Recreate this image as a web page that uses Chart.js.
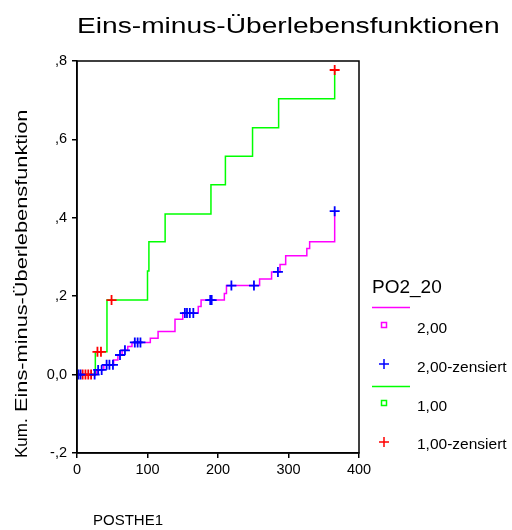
<!DOCTYPE html>
<html>
<head>
<meta charset="utf-8">
<script src="https://cdn.jsdelivr.net/npm/chart.js@4/dist/chart.umd.min.js"></script>
<style>
  html, body { margin: 0; padding: 0; background: #fff; }
</style>
</head>
<body>
<canvas id="km" width="512" height="530"></canvas>
<script>
// Texts
const titleText = "Eins-minus-Überlebensfunktionen";
const yTitleKum = "Kum.";
const yTitleMain = "Eins-minus-Überlebensfunktion";
const xTitleText = "POSTHE1";
const legendTitle = "PO2_20";
const legendLabels = ["2,00", "2,00-zensiert", "1,00", "1,00-zensiert"];

// Axes
const xTicks = [0, 100, 200, 300, 400];
const yTicks = [-0.2, 0, 0.2, 0.4, 0.6, 0.8];
const yTickLabels = ["-,2", "0,0", ",2", ",4", ",6", ",8"];

// Group 2,00: step times and cumulative value after each step
const times2 = [0, 28, 38, 52, 58, 64, 72, 78, 104, 115, 139, 150, 172, 176, 209, 212, 259, 276, 288, 296, 326, 330, 365.5];
const cum2 = [0, 0.012, 0.025, 0.037, 0.05, 0.062, 0.072, 0.082, 0.093, 0.11, 0.141, 0.157, 0.174, 0.19, 0.207, 0.227, 0.244, 0.262, 0.281, 0.303, 0.322, 0.339, 0.417];
// Group 2,00: censored cases
const cens2T = [2, 5, 25, 30, 35, 42, 46, 51, 61, 68, 82, 86, 90, 153, 156, 160, 165, 189, 191, 219, 251, 285, 365.5];
const cens2Y = [0, 0, 0, 0.012, 0.012, 0.025, 0.025, 0.025, 0.05, 0.062, 0.082, 0.082, 0.082, 0.157, 0.157, 0.157, 0.157, 0.19, 0.19, 0.227, 0.227, 0.262, 0.417];

// Group 1,00
const times1 = [0, 26, 42.5, 100, 102, 125, 190, 210.5, 249, 286, 365.5];
const cum1 = [0, 0.058, 0.19, 0.264, 0.339, 0.41, 0.484, 0.557, 0.63, 0.704, 0.777];
const cens1T = [8, 12, 16, 20, 29, 34, 49, 365.5];
const cens1Y = [0, 0, 0, 0, 0.058, 0.058, 0.19, 0.777];

const MAGENTA = "#ff00ff";
const GREEN = "#00ff00";
const BLUE = "#0000ff";
const RED = "#ff0000";
const FONT = "'Liberation Sans', Arial, sans-serif";

const pts = (xs, ys) => xs.map((x, i) => ({ x: x, y: ys[i] }));

// frame, titles and legend drawn around the plot
const decorations = {
    id: "decorations",
    afterDraw(chart) {
        const ctx = chart.ctx;
        const a = chart.chartArea;
        ctx.save();

        ctx.strokeStyle = "#000";
        ctx.lineWidth = 1.5;
        ctx.strokeRect(a.left, a.top, a.right - a.left, a.bottom - a.top);

        ctx.fillStyle = "#000";
        ctx.textBaseline = "alphabetic";
        ctx.textAlign = "left";

        // title, drawn a little wide
        ctx.save();
        ctx.font = "22px " + FONT;
        ctx.translate(77, 33);
        ctx.scale(1.28, 1);
        ctx.fillText(titleText, 0, 0);
        ctx.restore();

        // y title, bottom to top
        ctx.save();
        ctx.font = "17px " + FONT;
        ctx.translate(27, 458);
        ctx.rotate(-Math.PI / 2);
        ctx.fillText(yTitleKum, 0, 0);
        ctx.translate(46, 0);
        ctx.scale(1.28, 1);
        ctx.fillText(yTitleMain, 0, 0);
        ctx.restore();

        ctx.font = "15px " + FONT;
        ctx.fillText(xTitleText, 93, 525);

        // legend
        ctx.font = "19px " + FONT;
        ctx.fillText(legendTitle, 372, 293);

        const line = (y, color) => {
            ctx.strokeStyle = color;
            ctx.lineWidth = 1.5;
            ctx.beginPath();
            ctx.moveTo(372, y);
            ctx.lineTo(410, y);
            ctx.stroke();
        };
        const square = (y, color) => {
            ctx.strokeStyle = color;
            ctx.lineWidth = 1.5;
            ctx.strokeRect(381.5, y - 2.5, 5, 5);
        };
        const cross = (y, color) => {
            ctx.strokeStyle = color;
            ctx.lineWidth = 1.5;
            ctx.beginPath();
            ctx.moveTo(379, y);
            ctx.lineTo(389, y);
            ctx.moveTo(384, y - 5);
            ctx.lineTo(384, y + 5);
            ctx.stroke();
        };

        line(307.5, MAGENTA);
        square(325, MAGENTA);
        cross(364, BLUE);
        line(386.5, GREEN);
        square(403, GREEN);
        cross(442, RED);

        ctx.font = "15.5px " + FONT;
        ctx.textBaseline = "middle";
        ctx.fillStyle = "#000";
        const labelY = [329, 368, 407, 445];
        legendLabels.forEach((t, i) => ctx.fillText(t, 417, labelY[i]));

        ctx.restore();
    }
};

new Chart(document.getElementById("km").getContext("2d"), {
    type: "scatter",
    data: {
        datasets: [
            {
                label: legendLabels[1],
                data: pts(cens2T, cens2Y),
                pointStyle: "cross",
                pointRadius: 5,
                pointBorderWidth: 1.8,
                borderColor: BLUE,
                backgroundColor: BLUE,
                showLine: false,
            },
            {
                label: legendLabels[3],
                data: pts(cens1T, cens1Y),
                pointStyle: "cross",
                pointRadius: 5,
                pointBorderWidth: 1.8,
                borderColor: RED,
                backgroundColor: RED,
                showLine: false,
            },
            {
                label: legendLabels[0],
                data: pts(times2, cum2),
                showLine: true,
                stepped: true,
                borderColor: MAGENTA,
                borderWidth: 1.5,
                pointRadius: 0,
            },
            {
                label: legendLabels[2],
                data: pts(times1, cum1),
                showLine: true,
                stepped: true,
                borderColor: GREEN,
                borderWidth: 1.5,
                pointRadius: 0,
            },
        ],
    },
    options: {
        responsive: false,
        animation: false,
        layout: { padding: { left: 40, right: 153, top: 61, bottom: 47 } },
        plugins: {
            legend: { display: false },
            title: { display: false },
            tooltip: { enabled: false },
        },
        scales: {
            x: {
                type: "linear",
                min: 0,
                max: 400,
                afterBuildTicks: (scale) => { scale.ticks = xTicks.map((v) => ({ value: v })); },
                afterFit: (scale) => { scale.height = 30; },
                grid: { drawOnChartArea: false, color: "#000", tickLength: 5, lineWidth: 1.5 },
                border: { color: "#000", width: 1.5 },
                ticks: { color: "#000", font: { family: FONT, size: 14.5 }, padding: 3, maxRotation: 0 },
            },
            y: {
                type: "linear",
                min: -0.2,
                max: 0.8,
                afterBuildTicks: (scale) => { scale.ticks = yTicks.map((v) => ({ value: v })); },
                afterFit: (scale) => { scale.width = 37; },
                grid: { drawOnChartArea: false, color: "#000", tickLength: 5, lineWidth: 1.5 },
                border: { color: "#000", width: 1.5 },
                ticks: {
                    color: "#000",
                    font: { family: FONT, size: 14.5 },
                    padding: 5,
                    callback: (v) => {
                        const i = yTicks.findIndex((t) => Math.abs(t - v) < 1e-9);
                        return i >= 0 ? yTickLabels[i] : "";
                    },
                },
            },
        },
    },
    plugins: [decorations],
});
</script>
</body>
</html>
